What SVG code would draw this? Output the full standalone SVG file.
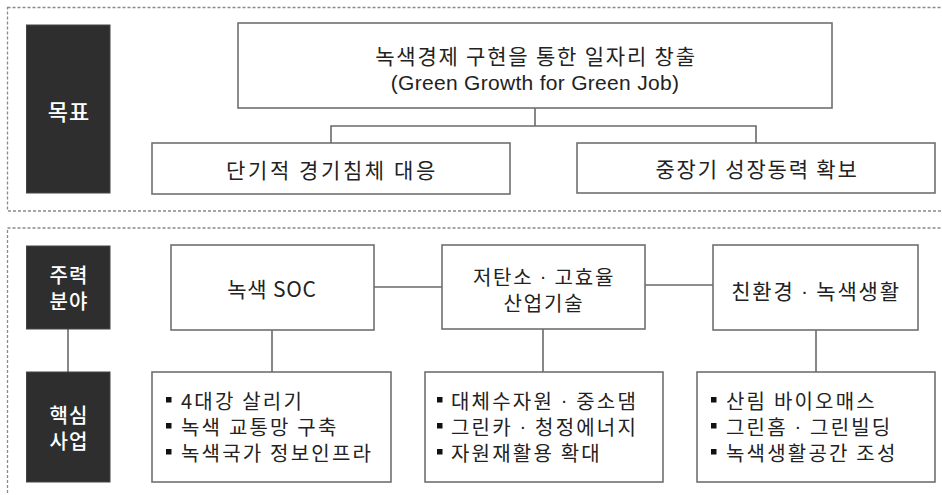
<svg xmlns="http://www.w3.org/2000/svg" width="942" height="495" viewBox="0 0 942 495">
<style>
.sec{fill:none;stroke:#8a8a8a;stroke-width:1.3;stroke-dasharray:3 2}
.lab{fill:#2e2e2e;stroke:#444;stroke-width:1}
.lt{fill:#fff;font-family:"Noto Sans CJK KR",sans-serif;font-size:20px;font-weight:500;letter-spacing:1px;text-anchor:middle;dominant-baseline:central}
.box{fill:#fff;stroke:#707070;stroke-width:1.6}
.t{fill:#222;font-family:"Noto Sans CJK KR",sans-serif;font-size:21px;letter-spacing:1.8px;text-anchor:middle;dominant-baseline:central}
.e{fill:#222;font-family:"Liberation Sans",sans-serif;font-size:21px;letter-spacing:0.3px;text-anchor:middle;dominant-baseline:central}
.b{fill:#222;font-family:"Noto Sans CJK KR",sans-serif;font-size:20px;letter-spacing:2.2px;dominant-baseline:central}
.d{font-family:"Liberation Sans",sans-serif}
.c{fill:none;stroke:#6a6a6a;stroke-width:1.6}
</style>
<defs>
<rect id="sq" width="5.5" height="5.5" fill="#111"/>
</defs>
<rect class="sec" x="7.5" y="7.5" width="940" height="203.5"/>
<rect class="sec" x="7.5" y="228" width="940" height="280"/>

<g id="connectors">
<path class="c" d="M535 108V126M331 143V126H756V143"/>
<path class="c" d="M374 287H442M645 285H713"/>
<path class="c" d="M272 330V372M543 329V372M816 330V372"/>
<path class="c" d="M68 329V372"/>
</g>

<g id="label-goal">
<rect class="lab" x="26.5" y="25" width="83.5" height="168"/>
<text class="lt" x="69" y="110" style="font-size:22px">목표</text>
</g>
<g id="label-field">
<rect class="lab" x="26.5" y="246" width="83.5" height="83"/>
<text class="lt"><tspan x="69" y="274">주력</tspan><tspan x="69" y="300">분야</tspan></text>
</g>
<g id="label-core">
<rect class="lab" x="26.5" y="372" width="83.5" height="110"/>
<text class="lt"><tspan x="69" y="414">핵심</tspan><tspan x="69" y="440">사업</tspan></text>
</g>

<g id="goal-main">
<rect class="box" x="238" y="23" width="594" height="85"/>
<text class="t"><tspan x="536" y="55">녹색경제 구현을 통한 일자리 창출</tspan><tspan class="e" x="535" y="82">(Green Growth for Green Job)</tspan></text>
</g>
<g id="goal-short">
<rect class="box" x="152" y="143" width="358" height="51"/>
<text class="t" x="332" y="169" style="letter-spacing:2.6px">단기적 경기침체 대응</text>
</g>
<g id="goal-long">
<rect class="box" x="577" y="143" width="358" height="50"/>
<text class="t" x="757" y="168">중장기 성장동력 확보</text>
</g>

<g id="field-soc">
<rect class="box" x="171" y="245" width="203" height="85"/>
<text class="t" x="272" y="288" style="letter-spacing:0.8px">녹색 SOC</text>
</g>
<g id="field-tech">
<rect class="box" x="442" y="245" width="203" height="84"/>
<text class="t" style="font-size:20px"><tspan x="544" y="276">저탄소 <tspan class="d">·</tspan> 고효율</tspan><tspan x="544" y="302">산업기술</tspan></text>
</g>
<g id="field-life">
<rect class="box" x="713" y="245" width="205" height="85"/>
<text class="t" x="816" y="290">친환경 <tspan class="d">·</tspan> 녹색생활</text>
</g>

<g id="core-soc">
<rect class="box" x="152" y="372" width="239" height="110"/>
<use href="#sq" x="166" y="397"/><use href="#sq" x="166" y="423"/><use href="#sq" x="166" y="449"/>
<text class="b"><tspan x="181" y="400">4대강 살리기</tspan><tspan x="181" y="426">녹색 교통망 구축</tspan><tspan x="181" y="452">녹색국가 정보인프라</tspan></text>
</g>
<g id="core-tech">
<rect class="box" x="425" y="372" width="238" height="110"/>
<use href="#sq" x="437" y="397"/><use href="#sq" x="437" y="423"/><use href="#sq" x="437" y="449"/>
<text class="b"><tspan x="451" y="400">대체수자원 <tspan class="d">·</tspan> 중소댐</tspan><tspan x="451" y="426">그린카 <tspan class="d">·</tspan> 청정에너지</tspan><tspan x="451" y="452">자원재활용 확대</tspan></text>
</g>
<g id="core-life">
<rect class="box" x="697" y="372" width="238" height="110"/>
<use href="#sq" x="711" y="397"/><use href="#sq" x="711" y="423"/><use href="#sq" x="711" y="449"/>
<text class="b"><tspan x="726" y="400">산림 바이오매스</tspan><tspan x="726" y="426">그린홈 <tspan class="d">·</tspan> 그린빌딩</tspan><tspan x="726" y="452">녹색생활공간 조성</tspan></text>
</g>
</svg>
